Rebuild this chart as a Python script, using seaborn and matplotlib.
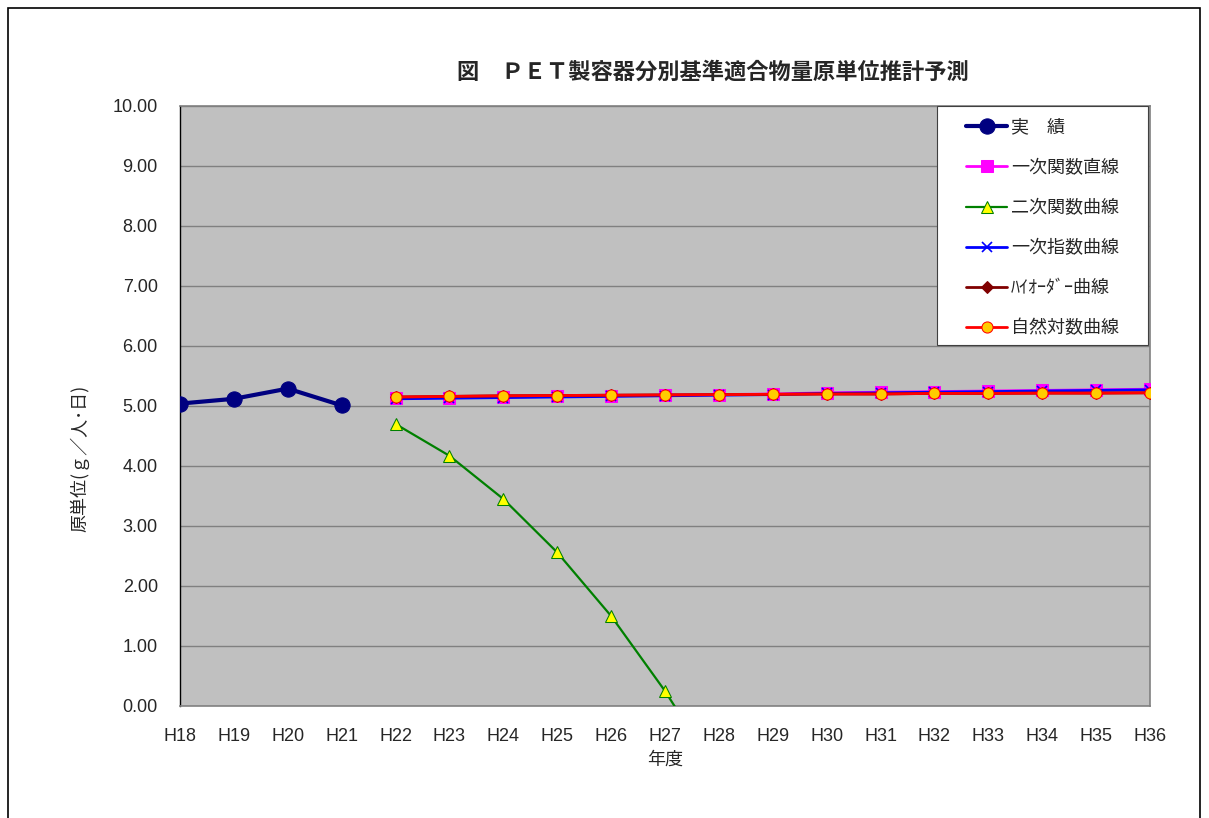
import numpy as np
import pandas as pd
import matplotlib
matplotlib.use("Agg")
import matplotlib.pyplot as plt
import seaborn as sns
from matplotlib.patches import Rectangle

years = ["H18", "H19", "H20", "H21", "H22", "H23", "H24", "H25", "H26", "H27",
         "H28", "H29", "H30", "H31", "H32", "H33", "H34", "H35", "H36"]
actual_years = ["H18", "H19", "H20", "H21"]
actual = [5.04, 5.12, 5.29, 5.01]

fc_years = ["H22", "H23", "H24", "H25", "H26", "H27", "H28", "H29", "H30",
            "H31", "H32", "H33", "H34", "H35", "H36"]
linear = [5.13, 5.14, 5.15, 5.16, 5.17, 5.18, 5.19, 5.20, 5.22, 5.23, 5.24, 5.25, 5.26, 5.27, 5.28]
quad_years = ["H22", "H23", "H24", "H25", "H26", "H27", "H28"]
quadratic = [4.70, 4.17, 3.45, 2.56, 1.50, 0.25, -1.17]
exponential = [5.12, 5.13, 5.14, 5.15, 5.16, 5.17, 5.18, 5.19, 5.21, 5.22, 5.23, 5.24, 5.25, 5.26, 5.27]
high_order = [5.15, 5.16, 5.17, 5.175, 5.18, 5.185, 5.19, 5.195, 5.20, 5.20, 5.21, 5.21, 5.215, 5.215, 5.22]
natural_log = [5.15, 5.16, 5.17, 5.175, 5.18, 5.185, 5.19, 5.195, 5.20, 5.20, 5.21, 5.21, 5.215, 5.215, 5.22]

labels = ["実　績", "一次関数直線", "二次関数曲線", "一次指数曲線", "ﾊｲｵｰﾀﾞｰ曲線", "自然対数曲線"]
title = "図　ＰＥＴ製容器分別基準適合物量原単位推計予測"
ylabel = "原単位(ｇ／人･日)"
xlabel = "年度"
yticks = [0, 1, 2, 3, 4, 5, 6, 7, 8, 9, 10]

jp = ["Noto Sans CJK JP", "DejaVu Sans"]
num = ["Liberation Sans", "DejaVu Sans"]

sns.set_theme(style="white")
plt.rcParams['font.family'] = jp

W, H = 1209, 818
fig = plt.figure(figsize=(W/100, H/100), dpi=100)
ax = fig.add_axes([180/W, 1-706/H, 970/W, 600/H])
ax.set_facecolor("#C0C0C0")

idx = {y: i for i, y in enumerate(years)}

def df_of(xs, vs):
    return pd.DataFrame({"x": [idx[v] for v in xs], "y": vs})

for t in yticks[1:]:
    ax.axhline(t, color="#808080", lw=1.0, zorder=0.5)

sns.lineplot(data=df_of(fc_years, linear), x="x", y="y", ax=ax, color="#FF00FF", lw=2,
             marker="s", markersize=8, markeredgecolor="#FF00FF", markerfacecolor="#FF00FF",
             label=labels[1], zorder=3)
sns.lineplot(data=df_of(quad_years, quadratic), x="x", y="y", ax=ax, color="#008000", lw=1.6,
             marker="^", markersize=8, markeredgecolor="#008000", markerfacecolor="#FFFF00",
             label=labels[2], zorder=3)
sns.lineplot(data=df_of(fc_years, exponential), x="x", y="y", ax=ax, color="#0000FF", lw=2,
             marker="x", markersize=7, markeredgecolor="#0000FF", mew=1.2,
             label=labels[3], zorder=4)
sns.lineplot(data=df_of(fc_years, high_order), x="x", y="y", ax=ax, color="#800000", lw=2,
             marker="D", markersize=6, markeredgecolor="#800000", markerfacecolor="#800000",
             label=labels[4], zorder=4)
sns.lineplot(data=df_of(fc_years, natural_log), x="x", y="y", ax=ax, color="#FF0000", lw=2,
             marker="o", markersize=8, markeredgecolor="#FF0000", markerfacecolor="#FFCC00",
             label=labels[5], zorder=5)
sns.lineplot(data=df_of(actual_years, actual), x="x", y="y", ax=ax, color="#000080", lw=3,
             marker="o", markersize=11, markeredgecolor="#000080", markerfacecolor="#000080",
             label=labels[0], zorder=6)

ax.set_xlim(0, len(years) - 1)
ax.set_ylim(0, 10)
ax.set_xticks(range(len(years)))
ax.set_xticklabels(years, fontsize=13, family=num)
ax.set_yticks(yticks)
ax.set_yticklabels([f"{t:.2f}" for t in yticks], fontsize=13, family=num)
ax.tick_params(axis="x", length=0, pad=16)
ax.tick_params(axis="y", length=0, pad=16)
ax.set_xlabel("")
ax.set_ylabel("")

fig.text(665/W, 1-760/H, xlabel, ha="center", va="center", fontsize=13)
fig.text(80/W, 1-458/H, ylabel, ha="center", va="center", fontsize=13, rotation=90)

for s in ["top", "right"]:
    ax.spines[s].set_color("#808080")
    ax.spines[s].set_linewidth(1.2)
ax.spines["left"].set_color("#000000")
ax.spines["left"].set_linewidth(1.0)
ax.spines["bottom"].set_color("#808080")
ax.spines["bottom"].set_linewidth(1.2)

# legend box
x0 = (937-180)/970
x1 = (1148-180)/970
y0 = (706-345)/600
box = Rectangle((x0, y0), x1-x0, 1.0-y0, transform=ax.transAxes, facecolor="white",
                edgecolor="#404040", lw=0.8, zorder=9, clip_on=False)
ax.add_patch(box)

handles, labs = ax.get_legend_handles_labels()
order = [labs.index(l) for l in labels]
leg = ax.legend([handles[i] for i in order], [labs[i] for i in order],
                loc="center", bbox_to_anchor=((x0+x1)/2, (706-228)/600), borderaxespad=0,
                fontsize=13, labelspacing=1.23, handlelength=2.3, handletextpad=0.2,
                borderpad=0.3, frameon=False)
leg.set_zorder(10)

fig.text(713/W, 1-72/H, title, ha="center", va="center", fontsize=16, fontweight="bold")

fig.patches.append(Rectangle((8/W, -0.01), (1200-8)/W, (H-8)/H + 0.01,
                             transform=fig.transFigure, fill=False, edgecolor="black", lw=1.2))

fig.savefig("out.png", dpi=100)
